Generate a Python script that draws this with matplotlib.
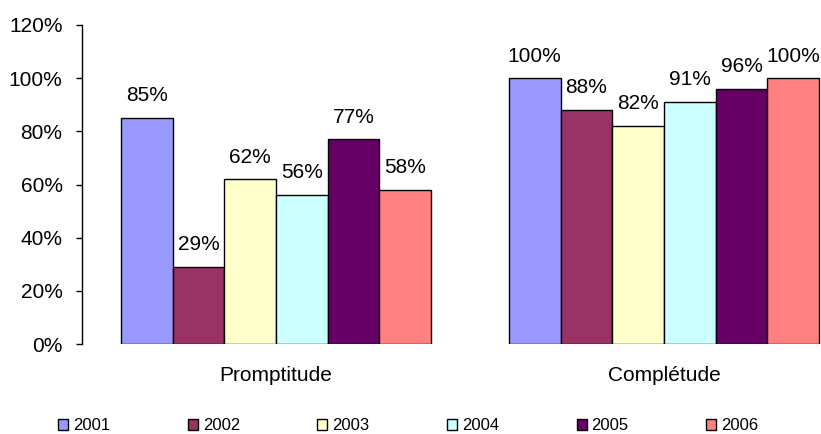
import matplotlib
matplotlib.use("Agg")
import matplotlib.pyplot as plt
import numpy as np

plt.rcParams['font.family'] = ['Liberation Sans', 'DejaVu Sans']

categories = ['Promptitude', 'Complétude']
years = ['2001', '2002', '2003', '2004', '2005', '2006']
values = [
    [85, 100],  # 2001
    [29, 88],   # 2002
    [62, 82],   # 2003
    [56, 91],   # 2004
    [77, 96],   # 2005
    [58, 100],  # 2006
]
colors = ['#9999FF', '#993366', '#FFFFCC', '#CCFFFF', '#660066', '#FF8080']

fig = plt.figure(figsize=(8.21, 4.34), dpi=100)
ax = fig.add_axes([82 / 821, 1 - 344 / 434, 1 - 82 / 821, (344 - 25) / 434])

x = np.arange(len(categories))
w = 0.8 / len(years)
for i, (yr, vals) in enumerate(zip(years, values)):
    pos = x - 0.4 + w * (i + 0.5)
    bars = ax.bar(pos, vals, width=w, color=colors[i], edgecolor='black',
                  linewidth=1.0, label=yr)
    for b, v in zip(bars, vals):
        ax.annotate(f'{v}%', (b.get_x() + b.get_width() / 2, v),
                    xytext=(0, 12), textcoords='offset points',
                    ha='center', va='baseline', fontsize=15)

ax.set_ylim(0, 120)
ax.set_xlim(-0.5, 1.5 - 37 / 388)
ax.set_yticks(range(0, 121, 20))
ax.set_yticklabels([f'{t}%' for t in range(0, 121, 20)])
ax.set_xticks(x)
ax.set_xticklabels(categories)
ax.tick_params(axis='y', direction='out', length=4, width=1, pad=10, labelsize=15)
ax.tick_params(axis='x', length=0, pad=16, labelsize=15)
for s in ['top', 'right', 'bottom']:
    ax.spines[s].set_visible(False)
ax.spines['left'].set_linewidth(1)

fig.legend(loc='lower left', bbox_to_anchor=(58 / 821, 0.002), ncol=6,
           frameon=False, fontsize=12, handlelength=0.6, handleheight=0.6,
           handletextpad=0.3, columnspacing=4.65, borderpad=0.0, borderaxespad=0)

fig.savefig('out.png', dpi=100)
